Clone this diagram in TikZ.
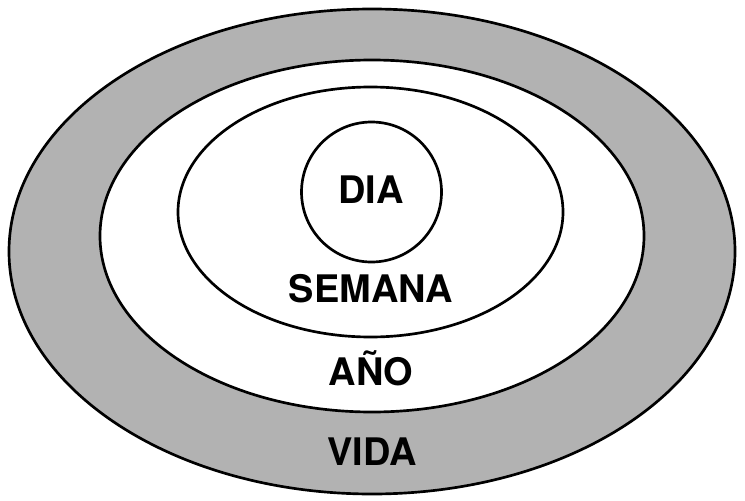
\documentclass[tikz,border=0pt]{standalone}
\usepackage{fontspec}
\setmainfont{TeX Gyre Heros}
\begin{document}
\begin{tikzpicture}[ring style/.style={draw, line width=1.9pt}, word style/.style={anchor=base, font=\fontsize{27}{31}\selectfont\bfseries}]
	\useasboundingbox (0, 0) rectangle (18.625, -12.5);
	\draw[ring style, fill=black!30] (9.3, -6.2875) ellipse [x radius=9.075, y radius=6.0625];
	\draw[ring style, fill=white] (9.3, -5.9) ellipse [x radius=6.8, y radius=4.4];
	\draw[ring style] (9.2625, -5.3) ellipse [x radius=4.8125, y radius=3.125];
	\draw[ring style] (9.2875, -4.8) circle [radius=1.75];
	\node[word style] (T1) at (9.275, -5.075) {DIA};
	\node[word style] (T2) at (9.275, -7.55) {SEMANA};
	\node[word style] (T3) at (9.275, -9.625) {AÑO};
	\node[word style] (T4) at (9.3, -11.625) {VIDA};
\end{tikzpicture}
\end{document}
